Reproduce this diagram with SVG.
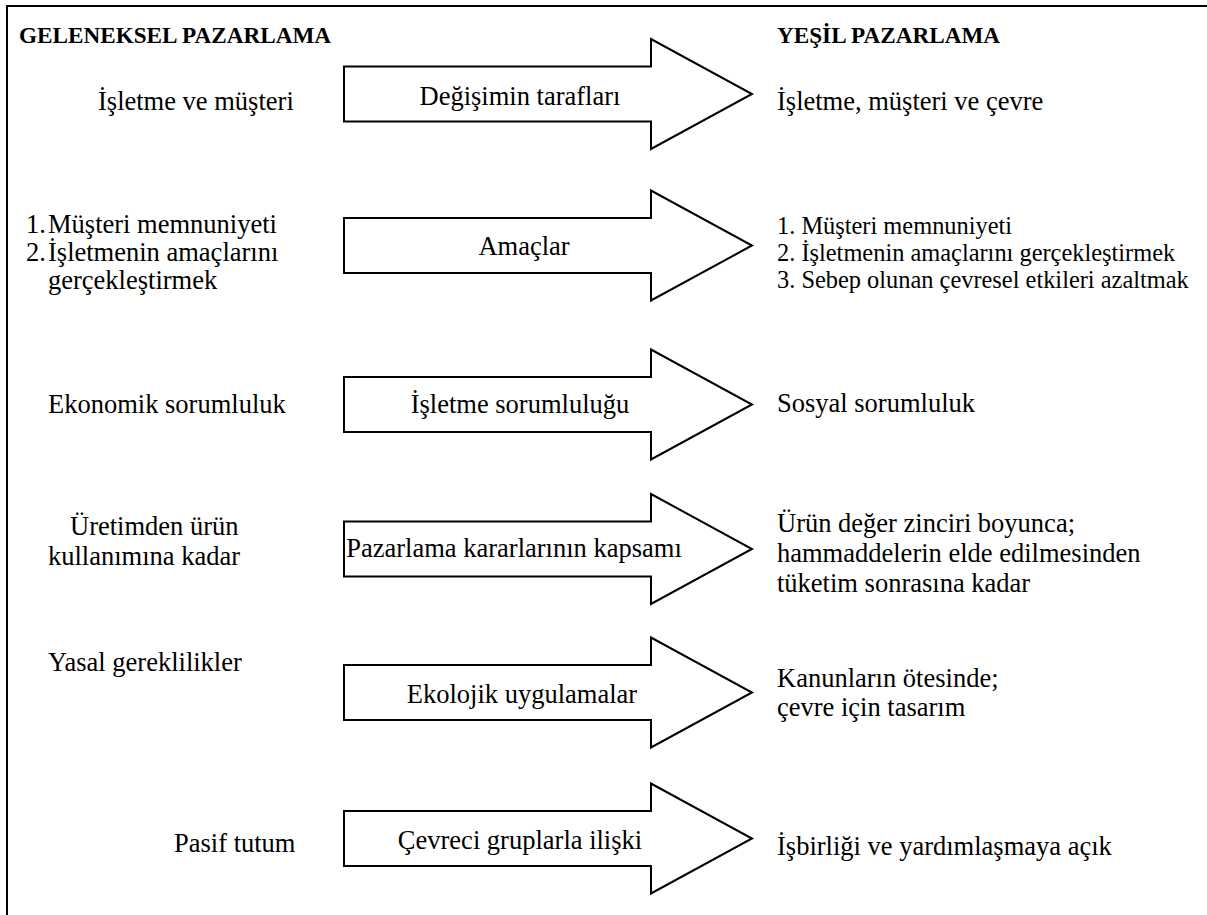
<svg xmlns="http://www.w3.org/2000/svg" xmlns:xlink="http://www.w3.org/1999/xlink" width="1207" height="915" viewBox="0 0 1207 915">
  <style>
    .frame { fill: none; stroke: #000; stroke-width: 2; }
    .arrow { fill: #fff; stroke: #000; stroke-width: 2; stroke-linejoin: miter; }
    .txt { font-family: 'Liberation Serif', 'Times New Roman', 'DejaVu Serif', serif; fill: #000; }
    .head { font-size: 23.2px; font-weight: bold; }
    .lbl { font-size: 26.5px; }
    .small { font-size: 24.4px; }
    .mid { text-anchor: middle; }
  </style>
  <defs>
    <!-- block arrow centred on y=0 -->
    <path id="blockArrow" class="arrow" d="M344,-27.5 H651 V-55 L752,0 L651,55 V27.5 H344 Z"/>
  </defs>

  <rect width="1207" height="915" fill="#fff"/>

  <!-- frame: top and left rules -->
  <g id="frame">
    <path class="frame" d="M7,915 V6 H1207"/>
  </g>

  <g class="txt" font-family="Liberation Serif, Times New Roman, DejaVu Serif, serif">
    <!-- column headings -->
    <g id="headings">
      <text class="head" x="19" y="43">GELENEKSEL PAZARLAMA</text>
      <text class="head" x="777" y="43">YEŞİL PAZARLAMA</text>
    </g>

    <!-- comparison arrows -->
    <g id="connectors">
      <g id="arrow-taraflar" transform="translate(0,94)">
        <use xlink:href="#blockArrow"/>
        <text class="lbl mid" x="520" y="11">Değişimin tarafları</text>
      </g>
      <g id="arrow-amaclar" transform="translate(0,245.5)">
        <use xlink:href="#blockArrow"/>
        <text class="lbl mid" x="524" y="9">Amaçlar</text>
      </g>
      <g id="arrow-sorumluluk" transform="translate(0,404.5)">
        <use xlink:href="#blockArrow"/>
        <text class="lbl mid" x="520" y="8">İşletme sorumluluğu</text>
      </g>
      <g id="arrow-kapsam" transform="translate(0,549)">
        <use xlink:href="#blockArrow"/>
        <text class="lbl mid" x="514" y="8">Pazarlama kararlarının kapsamı</text>
      </g>
      <g id="arrow-ekolojik" transform="translate(0,692.5)">
        <use xlink:href="#blockArrow"/>
        <text class="lbl mid" x="522" y="10">Ekolojik uygulamalar</text>
      </g>
      <g id="arrow-gruplar" transform="translate(0,838.5)">
        <use xlink:href="#blockArrow"/>
        <text class="lbl mid" x="520" y="10">Çevreci gruplarla ilişki</text>
      </g>
    </g>

    <!-- traditional marketing column -->
    <g id="left-taraflar">
      <text class="lbl" x="98" y="110">İşletme ve müşteri</text>
    </g>
    <g id="left-amaclar">
      <text class="lbl" y="233"><tspan x="26">1.</tspan><tspan x="48">Müşteri memnuniyeti</tspan></text>
      <text class="lbl" y="261"><tspan x="26">2.</tspan><tspan x="48">İşletmenin amaçlarını</tspan></text>
      <text class="lbl" x="48" y="289">gerçekleştirmek</text>
    </g>
    <g id="left-sorumluluk">
      <text class="lbl" x="48" y="413">Ekonomik sorumluluk</text>
    </g>
    <g id="left-kapsam">
      <text class="lbl" x="70" y="535">Üretimden ürün</text>
      <text class="lbl" x="48" y="565">kullanımına kadar</text>
    </g>
    <g id="left-ekolojik">
      <text class="lbl" x="48" y="671">Yasal gereklilikler</text>
    </g>
    <g id="left-gruplar">
      <text class="lbl" x="174" y="852">Pasif tutum</text>
    </g>

    <!-- green marketing column -->
    <g id="right-taraflar">
      <text class="lbl" x="777" y="110">İşletme, müşteri ve çevre</text>
    </g>
    <g id="right-amaclar">
      <text class="small" x="777" y="234">1. Müşteri memnuniyeti</text>
      <text class="small" x="777" y="261">2. İşletmenin amaçlarını gerçekleştirmek</text>
      <text class="small" x="777" y="288">3. Sebep olunan çevresel etkileri azaltmak</text>
    </g>
    <g id="right-sorumluluk">
      <text class="lbl" x="777" y="412">Sosyal sorumluluk</text>
    </g>
    <g id="right-kapsam">
      <text class="lbl" x="777" y="532">Ürün değer zinciri boyunca;</text>
      <text class="lbl" x="777" y="562">hammaddelerin elde edilmesinden</text>
      <text class="lbl" x="777" y="592">tüketim sonrasına kadar</text>
    </g>
    <g id="right-ekolojik">
      <text class="lbl" x="777" y="687">Kanunların ötesinde;</text>
      <text class="lbl" x="777" y="716">çevre için tasarım</text>
    </g>
    <g id="right-gruplar">
      <text class="lbl" x="777" y="855">İşbirliği ve yardımlaşmaya açık</text>
    </g>
  </g>
</svg>
